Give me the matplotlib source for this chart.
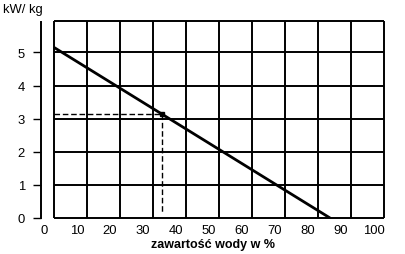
import matplotlib
matplotlib.use("Agg")
import matplotlib.pyplot as plt
from matplotlib import font_manager

# ---- data ----
x_ticks = [0, 10, 20, 30, 40, 50, 60, 70, 80, 90, 100]
y_ticks = [0, 1, 2, 3, 4, 5]
line_x = [3.1, 86.7]          # water content %
line_y = [5.15, 0.0]          # kW/kg
read_x = 35.8
read_y = 3.15
grid_offset = 3.14            # grid drawn shifted relative to labels
x_label = "zawartość wody w %"
y_label = "kW/ kg"

names = {f.name for f in font_manager.fontManager.ttflist}
narrow = "Liberation Sans Narrow" if "Liberation Sans Narrow" in names else "Liberation Sans"

fig = plt.figure(figsize=(4.05, 2.55), dpi=100)
ax = fig.add_axes([41.3 / 405, 36 / 255, 343 / 405, 197.3 / 255])
ymax = 5.96
xmin, xmax = -0.8, 100 + grid_offset
ax.set_xlim(xmin, xmax)
ax.set_ylim(0, ymax)

# grid box
gx = [t + grid_offset for t in x_ticks]
for x in gx:
    ax.plot([x, x], [0, ymax], color="black", lw=1.4, solid_capstyle="butt", clip_on=False)
for y in y_ticks + [ymax]:
    ax.plot([gx[0], gx[-1]], [y, y], color="black", lw=1.4, solid_capstyle="butt", clip_on=False)

# main line
ax.plot(line_x, line_y, color="black", lw=2.0, solid_capstyle="butt")
# reading
ax.plot([gx[0], read_x], [read_y, read_y], color="black", lw=1.0, dashes=(4, 2))
ax.plot([read_x, read_x], [read_y, 0.12], color="black", lw=1.0, dashes=(4, 2))
ax.plot([read_x], [read_y], "s", color="black", ms=3)

for s in ["top", "right", "bottom"]:
    ax.spines[s].set_visible(False)
ax.spines["left"].set_linewidth(1.4)
ax.spines["left"].set_bounds(0, ymax - 0.03)

ax.set_yticks(y_ticks)
ax.set_yticklabels([str(v) for v in y_ticks], fontfamily=narrow, fontsize=9.4)
ax.tick_params(axis="y", direction="out", length=8 / 1.389, width=1.0, pad=6)
ax.set_xticks(x_ticks)
ax.set_xticklabels([str(v) for v in x_ticks], fontfamily=narrow, fontsize=9.4)
ax.tick_params(axis="x", length=0, pad=4)

ax.set_xlabel(x_label, fontfamily="Liberation Sans", fontweight="bold", fontsize=9, labelpad=2)
fig.text(3.3 / 405, 1 - 10.5 / 255, y_label, fontfamily="Liberation Sans", fontsize=9.4,
         ha="left", va="center")

fig.savefig("out.png", dpi=100)
